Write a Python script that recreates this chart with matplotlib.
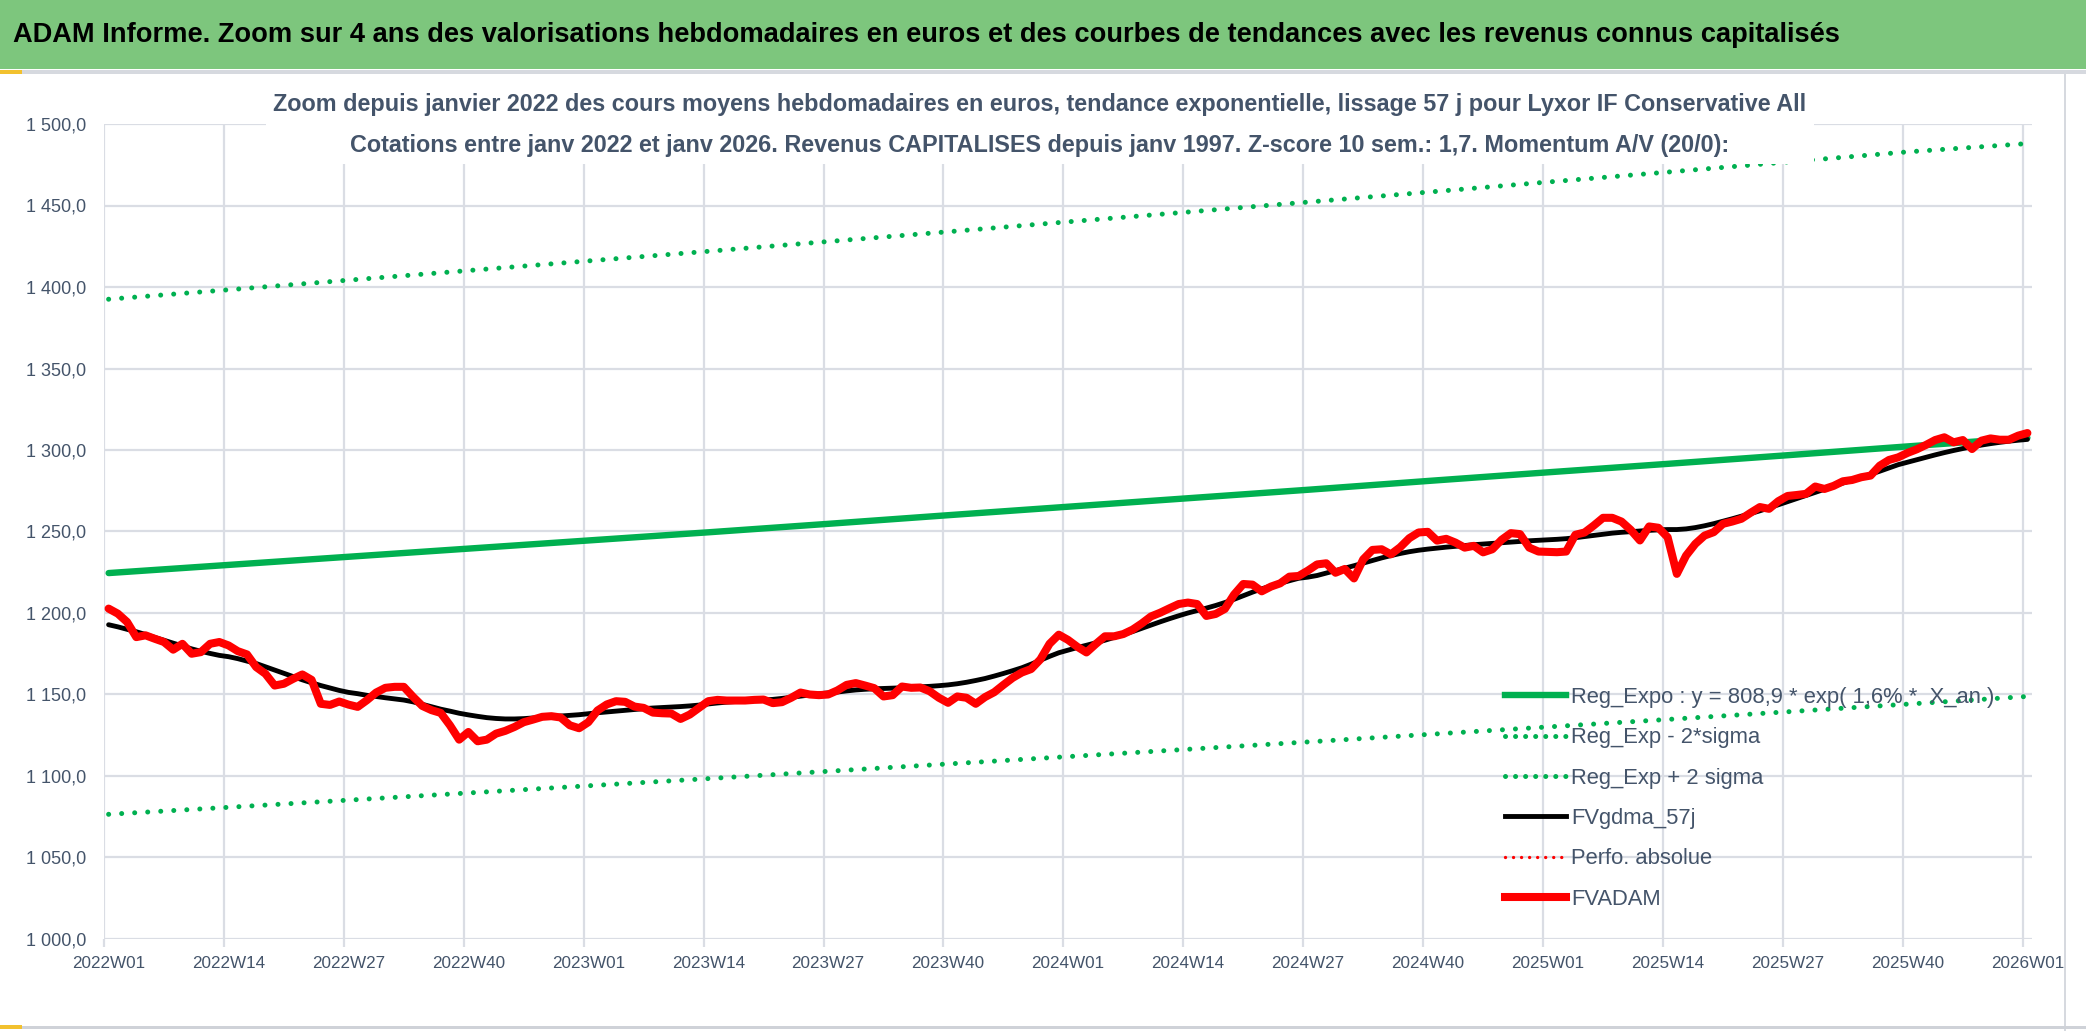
import numpy as np
import matplotlib
matplotlib.use("Agg")
import matplotlib.pyplot as plt
from matplotlib import font_manager
from matplotlib.lines import Line2D
from matplotlib.patches import Rectangle
from matplotlib.ticker import FuncFormatter, FixedLocator

# police étroite proche de Calibri si dispo, sinon Liberation Sans
noms = {f.name for f in font_manager.fontManager.ttflist}
police = 'Liberation Sans Narrow' if 'Liberation Sans Narrow' in noms else 'Liberation Sans'
plt.rcParams['font.family'] = [police, 'DejaVu Sans']

# --- données (une valeur par semaine, 2022W01 -> 2026W01)
fvadam = [
    1202.7, 1199.6, 1194.5, 1185.2, 1186.3, 1184.2, 1182.2, 1177.5, 1181.1, 1175.0, 1176.0, 1181.1, 1182.2,
    1180.1, 1176.6, 1174.6, 1166.8, 1162.7, 1155.5, 1156.6, 1159.6, 1162.3, 1159.0, 1144.3, 1143.6, 1145.7, 1143.8,
    1142.4, 1146.5, 1151.2, 1154.1, 1154.7, 1154.7, 1148.6, 1143.0, 1140.4, 1138.7, 1131.1, 1122.3, 1127.0,
    1121.3, 1122.3, 1126.0, 1127.7, 1130.1, 1133.0, 1134.6, 1136.3, 1136.7, 1135.9, 1131.1, 1129.3, 1133.0,
    1140.2, 1143.9, 1145.9, 1145.5, 1142.6, 1141.8, 1138.9, 1138.5, 1138.3, 1135.0, 1137.7, 1141.8, 1145.9,
    1146.7, 1146.3, 1146.3, 1146.3, 1146.7, 1146.9, 1144.7, 1145.3, 1148.0, 1151.2, 1150.0, 1149.6, 1150.0,
    1152.5, 1155.9, 1157.0, 1155.5, 1153.9, 1148.8, 1149.6, 1154.9, 1154.1, 1154.3, 1152.0, 1148.0, 1144.9,
    1148.8, 1148.0, 1144.3, 1148.4, 1151.4, 1155.9, 1160.2, 1163.5, 1165.6, 1171.5, 1181.1, 1186.7, 1183.5,
    1179.3, 1175.8, 1180.9, 1185.7, 1185.7, 1187.1, 1189.8, 1193.6, 1197.9, 1200.2, 1202.9, 1205.5, 1206.4,
    1205.5, 1198.2, 1199.4, 1202.5, 1211.3, 1217.8, 1217.4, 1213.3, 1216.2, 1218.2, 1222.3, 1222.7, 1226.0,
    1229.8, 1230.5, 1224.7, 1227.0, 1221.2, 1232.9, 1238.7, 1239.1, 1236.0, 1240.3, 1245.9, 1249.4, 1249.8,
    1244.4, 1245.5, 1243.2, 1240.1, 1241.2, 1237.2, 1239.1, 1244.9, 1249.0, 1248.4, 1240.1, 1237.7, 1237.5,
    1237.3, 1237.7, 1248.0, 1249.4, 1253.7, 1258.4, 1258.4, 1256.1, 1251.0, 1244.5, 1253.1, 1252.3, 1246.5,
    1224.0, 1235.2, 1242.4, 1247.5, 1249.6, 1254.7, 1256.1, 1257.8, 1261.5, 1265.0, 1263.9, 1268.6, 1271.8,
    1272.4, 1273.1, 1277.6, 1276.1, 1278.0, 1280.8, 1281.6, 1283.3, 1284.3, 1290.4, 1293.9, 1295.5, 1298.2,
    1300.4, 1303.1, 1306.1, 1307.8, 1304.7, 1306.1, 1300.6, 1305.7, 1307.1, 1306.3, 1306.3, 1308.8, 1310.4,
]

fvgdma_57j = [
    1192.8, 1191.5, 1190.0, 1188.5, 1186.8, 1185.0, 1183.3, 1181.5, 1179.8, 1178.0, 1176.5, 1175.2, 1174.0,
    1173.2, 1172.0, 1170.5, 1169.0, 1167.0, 1165.0, 1163.0, 1161.0, 1159.0, 1157.2, 1155.5, 1154.0, 1152.5, 1151.3,
    1150.5, 1149.5, 1148.8, 1148.0, 1147.3, 1146.6, 1145.5, 1144.0, 1142.5, 1141.0, 1139.8, 1138.5, 1137.5,
    1136.6, 1135.8, 1135.3, 1135.0, 1135.0, 1135.2, 1135.6, 1136.0, 1136.4, 1136.8, 1137.2, 1137.6, 1138.2,
    1138.8, 1139.3, 1139.8, 1140.3, 1140.8, 1141.3, 1141.7, 1142.0, 1142.3, 1142.6, 1143.0, 1143.5, 1144.2,
    1144.8, 1145.3, 1145.7, 1146.0, 1146.3, 1146.6, 1147.0, 1147.6, 1148.3, 1149.0, 1149.7, 1150.4, 1151.0,
    1151.5, 1152.2, 1152.8, 1153.2, 1153.5, 1153.7, 1153.9, 1154.1, 1154.4, 1154.7, 1155.0, 1155.4, 1155.9,
    1156.6, 1157.5, 1158.6, 1159.8, 1161.3, 1162.9, 1164.6, 1166.4, 1168.6, 1171.0, 1173.4, 1175.6, 1177.2,
    1178.8, 1180.2, 1181.7, 1183.3, 1185.0, 1186.8, 1188.6, 1190.6, 1192.6, 1194.6, 1196.5, 1198.3, 1200.0,
    1201.5, 1203.0, 1204.6, 1206.4, 1208.4, 1210.6, 1212.8, 1214.8, 1216.6, 1218.2, 1219.8, 1221.3, 1222.0,
    1223.0, 1224.5, 1226.0, 1227.5, 1229.0, 1230.6, 1232.2, 1233.8, 1235.2, 1236.5, 1237.6, 1238.5, 1239.2,
    1239.8, 1240.4, 1240.9, 1241.4, 1241.9, 1242.3, 1242.7, 1243.1, 1243.5, 1243.9, 1244.3, 1244.6, 1244.9,
    1245.2, 1245.6, 1246.2, 1246.9, 1247.6, 1248.3, 1249.0, 1249.5, 1249.9, 1250.3, 1250.7, 1251.0, 1251.2,
    1251.2, 1251.6, 1252.4, 1253.5, 1254.8, 1256.3, 1257.8, 1259.4, 1261.0, 1262.7, 1264.5, 1266.4, 1268.3,
    1270.2, 1272.1, 1274.0, 1275.9, 1277.8, 1279.7, 1281.5, 1283.3, 1285.1, 1287.0, 1289.0, 1291.0, 1292.5,
    1294.0, 1295.5, 1297.0, 1298.4, 1299.7, 1300.9, 1302.0, 1303.0, 1303.9, 1304.7, 1305.4, 1306.0, 1306.5,
]

# semaines affichées sur l'axe (une tous les 13 points)
semaines_ticks = ['2022W01', '2022W14', '2022W27', '2022W40', '2023W01', '2023W14', '2023W27', '2023W40',
                  '2024W01', '2024W14', '2024W27', '2024W40', '2025W01', '2025W14', '2025W27', '2025W40',
                  '2026W01']

# courbes de tendance, valeurs lues aux semaines des ticks
reg_expo = [1224.5, 1229.5, 1234.5, 1239.5, 1244.5, 1249.5, 1254.7, 1260.0, 1265.2,
            1270.4, 1275.6, 1281.0, 1286.3, 1291.5, 1296.8, 1302.2, 1307.5]
reg_moins_2sig = [1076.5, 1080.8, 1085.2, 1089.6, 1094.0, 1098.4, 1102.9, 1107.4, 1111.9,
                  1116.4, 1120.9, 1125.5, 1130.1, 1134.7, 1139.4, 1144.1, 1148.8]
reg_plus_2sig = [1392.5, 1398.3, 1404.2, 1410.1, 1416.0, 1421.9, 1427.9, 1433.9, 1440.0,
                 1446.0, 1452.1, 1458.2, 1464.4, 1470.5, 1476.7, 1482.9, 1488.0]

titre = ("ADAM Informe. Zoom sur 4 ans des valorisations hebdomadaires en euros et des courbes "
         "de tendances avec les revenus connus capitalisés")
sous_titre = ("Zoom depuis janvier 2022 des cours moyens hebdomadaires en euros, tendance exponentielle, "
              "lissage 57 j pour Lyxor IF Conservative All\n"
              "Cotations entre janv 2022 et janv 2026. Revenus CAPITALISES depuis janv 1997. "
              "Z-score 10 sem.: 1,7. Momentum A/V (20/0):")

W, H = 2086, 1031
GRIS_TXT = '#44546a'
GRILLE = '#dadde4'
VERT = '#00b050'

fig = plt.figure(figsize=(W / 100, H / 100), dpi=100)
fig.patch.set_facecolor('white')


def ajuste_largeur(txt, largeur_px):
    """Ajuste la taille de police pour que le texte fasse la largeur voulue."""
    for _ in range(2):
        fig.canvas.draw()
        bb = txt.get_window_extent()
        txt.set_fontsize(txt.get_fontsize() * largeur_px / bb.width)


# bandeau vert du titre + bordures de la capture
fig.patches.append(Rectangle((0, 1 - 69 / H), 1, 69 / H, transform=fig.transFigure,
                             facecolor='#7dc67d', edgecolor='none', zorder=0))
fig.patches.append(Rectangle((0, 1 - 74 / H), 1, 4 / H, transform=fig.transFigure,
                             facecolor='#d6d9df', edgecolor='none', zorder=0))
fig.patches.append(Rectangle((2064 / W, 0), 2 / W, 1 - 74 / H, transform=fig.transFigure,
                             facecolor='#d6d9df', edgecolor='none', zorder=0))
fig.patches.append(Rectangle((0, 2 / H), 1, 3 / H, transform=fig.transFigure,
                             facecolor='#cfd2d8', edgecolor='none', zorder=0))
fig.patches.append(Rectangle((0, 1 - 74 / H), 22 / W, 4 / H, transform=fig.transFigure,
                             facecolor='#f2c12e', edgecolor='none', zorder=1))
fig.patches.append(Rectangle((0, 2 / H), 22 / W, 4 / H, transform=fig.transFigure,
                             facecolor='#f2c12e', edgecolor='none', zorder=1))
t_titre = fig.text(13 / W, 1 - 35 / H, titre, fontsize=20, fontweight='bold', color='black',
                   va='center', ha='left')

ax = fig.add_axes([104 / W, 92 / H, (2032 - 104) / W, (939 - 124) / H])
ax.set_facecolor('none')

n = len(fvadam)
x = np.arange(n)
x_ticks = np.arange(0, n, 13)

pointille = (0, (0.01, 2.6))
ax.plot(x_ticks, reg_expo, color=VERT, lw=4.6, solid_capstyle='round', zorder=3)
ax.plot(x_ticks, reg_moins_2sig, color=VERT, lw=3.6, linestyle=pointille, dash_capstyle='round', zorder=3)
ax.plot(x_ticks, reg_plus_2sig, color=VERT, lw=3.6, linestyle=pointille, dash_capstyle='round', zorder=3)
ax.plot(x, fvgdma_57j, color='black', lw=3.5, solid_joinstyle='round', solid_capstyle='round', zorder=4)
ax.plot(x, fvadam, color='#ff0000', lw=5.8, solid_joinstyle='round', solid_capstyle='round', zorder=5)

ax.set_xlim(-0.5, n - 0.5)
ax.set_ylim(1000, 1500)
ax.yaxis.set_major_locator(FixedLocator(np.arange(1000, 1501, 50)))
ax.yaxis.set_major_formatter(FuncFormatter(lambda v, p: f"{v:,.1f}".replace(',', ' ').replace('.', ',')))
ax.set_xticks(x_ticks)
ax.set_xticklabels(semaines_ticks)
ax.set_xticks(x_ticks - 0.5, minor=True)

for s in ax.spines.values():
    s.set_visible(False)
ax.grid(axis='y', which='major', color=GRILLE, lw=1.6, zorder=0)
ax.grid(axis='x', which='minor', color=GRILLE, lw=1.6, zorder=0)
ax.tick_params(axis='y', length=0, pad=13, labelsize=13, labelcolor=GRIS_TXT)
ax.tick_params(axis='x', which='major', length=0, pad=12, labelsize=12.3, labelcolor=GRIS_TXT)
ax.tick_params(axis='x', which='minor', length=6, width=1.6, color=GRILLE)

# légende façon Excel, sans cadre
handles = [
    Line2D([], [], color=VERT, lw=4.6),
    Line2D([], [], color=VERT, lw=3.6, linestyle=(0, (0.01, 2.0)), dash_capstyle='round'),
    Line2D([], [], color=VERT, lw=3.6, linestyle=(0, (0.01, 2.0)), dash_capstyle='round'),
    Line2D([], [], color='black', lw=3.5),
    Line2D([], [], color='#ff0000', lw=2.4, linestyle=(0, (0.01, 2.4)), dash_capstyle='round'),
    Line2D([], [], color='#ff0000', lw=5.8),
]
labels = ['Reg_Expo : y = 808,9 * exp( 1,6% *  X_an )', 'Reg_Exp - 2*sigma', 'Reg_Exp + 2 sigma',
          'FVgdma_57j', 'Perfo. absolue', 'FVADAM']
leg = ax.legend(handles, labels, loc='upper left', bbox_to_anchor=(1505 / W, 1 - 687 / H),
                bbox_transform=fig.transFigure, frameon=False, fontsize=15.8, handlelength=2.8,
                handletextpad=0.2, labelspacing=0.88, borderpad=0, borderaxespad=0)
for t in leg.get_texts():
    t.set_color(GRIS_TXT)
leg.set_zorder(6)

# sous-titre avec fond blanc qui masque la grille
t_sous = fig.text(1040 / W, 1 - 125 / H, sous_titre, fontsize=16.8, fontweight='bold', color=GRIS_TXT,
                  ha='center', va='center', linespacing=1.95,
                  bbox=dict(facecolor='white', edgecolor='none', pad=5))

ajuste_largeur(t_titre, 1829)
ajuste_largeur(t_sous, 1534)

fig.savefig('out.png', dpi=100, facecolor='white')
